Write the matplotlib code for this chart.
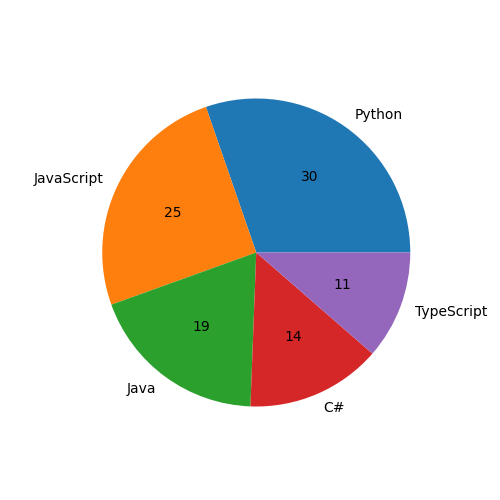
import matplotlib
matplotlib.use("Agg")
import matplotlib.pyplot as plt

languages = ["Python", "JavaScript", "Java", "C#", "TypeScript"]
shares = [30.3, 25.2, 18.9, 14.2, 11.4]  # percent, labels shown rounded

fig, ax = plt.subplots(figsize=(5, 5), dpi=100)
ax.pie(shares, labels=languages, autopct="%1.0f")
ax.set_aspect("equal")
plt.savefig("out.png")
